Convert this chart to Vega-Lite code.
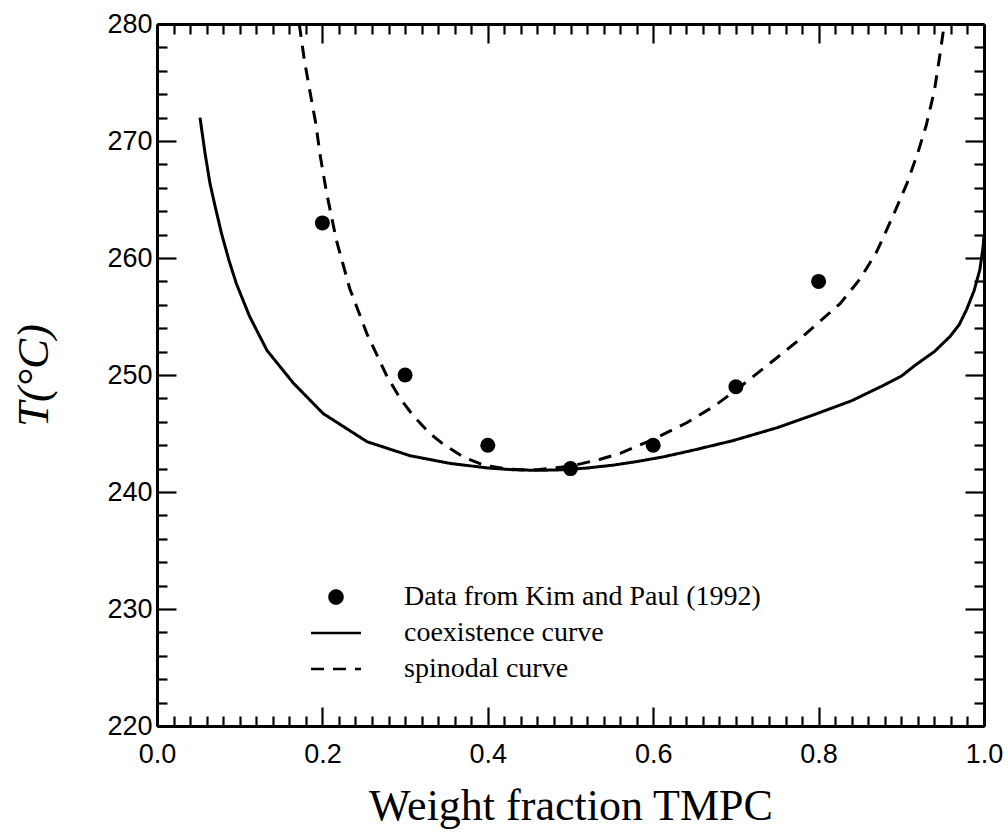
{
  "$schema": "https://vega.github.io/schema/vega-lite/v6.json",
  "autosize": "none",
  "padding": {"left": 157, "top": 24, "right": 24, "bottom": 112},
  "width": 827,
  "height": 702,
  "background": "white",
  "config": {
    "view": {"stroke": null},
    "axis": {
      "domainColor": "black", "domainWidth": 3, "tickColor": "black", "tickWidth": 2.2,
      "grid": false, "labelColor": "black", "titleColor": "black",
      "labelFont": "Liberation Sans", "labelFontSize": 27, "titleFont": "Liberation Serif",
      "titleFontWeight": "normal", "titleFontSize": 45, "labelOverlap": false, "labelFlush": false, "labelBound": false
    }
  },
  "datasets": {
    "measured": [
      {"w": 0.2, "T": 263, "series": "Data from Kim and Paul (1992)"},
      {"w": 0.3, "T": 250, "series": "Data from Kim and Paul (1992)"},
      {"w": 0.4, "T": 244, "series": "Data from Kim and Paul (1992)"},
      {"w": 0.5, "T": 242, "series": "Data from Kim and Paul (1992)"},
      {"w": 0.6, "T": 244, "series": "Data from Kim and Paul (1992)"},
      {"w": 0.7, "T": 249, "series": "Data from Kim and Paul (1992)"},
      {"w": 0.8, "T": 258, "series": "Data from Kim and Paul (1992)"}
    ],
    "curves": [
      {"w": 0.052, "T": 272.0, "series": "coexistence curve"},
      {"w": 0.058, "T": 269.0, "series": "coexistence curve"},
      {"w": 0.064, "T": 266.4, "series": "coexistence curve"},
      {"w": 0.070, "T": 264.5, "series": "coexistence curve"},
      {"w": 0.078, "T": 262.1, "series": "coexistence curve"},
      {"w": 0.087, "T": 259.8, "series": "coexistence curve"},
      {"w": 0.096, "T": 257.8, "series": "coexistence curve"},
      {"w": 0.112, "T": 255.0, "series": "coexistence curve"},
      {"w": 0.133, "T": 252.1, "series": "coexistence curve"},
      {"w": 0.165, "T": 249.3, "series": "coexistence curve"},
      {"w": 0.201, "T": 246.7, "series": "coexistence curve"},
      {"w": 0.254, "T": 244.3, "series": "coexistence curve"},
      {"w": 0.306, "T": 243.1, "series": "coexistence curve"},
      {"w": 0.354, "T": 242.45, "series": "coexistence curve"},
      {"w": 0.400, "T": 242.05, "series": "coexistence curve"},
      {"w": 0.431, "T": 241.9, "series": "coexistence curve"},
      {"w": 0.460, "T": 241.85, "series": "coexistence curve"},
      {"w": 0.491, "T": 241.9, "series": "coexistence curve"},
      {"w": 0.520, "T": 242.05, "series": "coexistence curve"},
      {"w": 0.552, "T": 242.3, "series": "coexistence curve"},
      {"w": 0.580, "T": 242.6, "series": "coexistence curve"},
      {"w": 0.612, "T": 243.0, "series": "coexistence curve"},
      {"w": 0.650, "T": 243.6, "series": "coexistence curve"},
      {"w": 0.697, "T": 244.4, "series": "coexistence curve"},
      {"w": 0.750, "T": 245.5, "series": "coexistence curve"},
      {"w": 0.798, "T": 246.7, "series": "coexistence curve"},
      {"w": 0.840, "T": 247.8, "series": "coexistence curve"},
      {"w": 0.878, "T": 249.1, "series": "coexistence curve"},
      {"w": 0.900, "T": 249.9, "series": "coexistence curve"},
      {"w": 0.918, "T": 250.9, "series": "coexistence curve"},
      {"w": 0.940, "T": 252.0, "series": "coexistence curve"},
      {"w": 0.959, "T": 253.3, "series": "coexistence curve"},
      {"w": 0.970, "T": 254.3, "series": "coexistence curve"},
      {"w": 0.979, "T": 255.6, "series": "coexistence curve"},
      {"w": 0.988, "T": 257.2, "series": "coexistence curve"},
      {"w": 0.995, "T": 259.0, "series": "coexistence curve"},
      {"w": 0.999, "T": 261.0, "series": "coexistence curve"},
      {"w": 1.000, "T": 262.0, "series": "coexistence curve"},
      {"w": 0.172, "T": 280.0, "series": "spinodal curve"},
      {"w": 0.178, "T": 277.0, "series": "spinodal curve"},
      {"w": 0.185, "T": 274.2, "series": "spinodal curve"},
      {"w": 0.192, "T": 271.5, "series": "spinodal curve"},
      {"w": 0.197, "T": 268.9, "series": "spinodal curve"},
      {"w": 0.205, "T": 265.6, "series": "spinodal curve"},
      {"w": 0.217, "T": 261.5, "series": "spinodal curve"},
      {"w": 0.233, "T": 257.4, "series": "spinodal curve"},
      {"w": 0.254, "T": 253.5, "series": "spinodal curve"},
      {"w": 0.278, "T": 249.9, "series": "spinodal curve"},
      {"w": 0.294, "T": 248.0, "series": "spinodal curve"},
      {"w": 0.310, "T": 246.5, "series": "spinodal curve"},
      {"w": 0.330, "T": 245.0, "series": "spinodal curve"},
      {"w": 0.346, "T": 244.1, "series": "spinodal curve"},
      {"w": 0.370, "T": 243.0, "series": "spinodal curve"},
      {"w": 0.395, "T": 242.3, "series": "spinodal curve"},
      {"w": 0.420, "T": 242.0, "series": "spinodal curve"},
      {"w": 0.440, "T": 241.9, "series": "spinodal curve"},
      {"w": 0.460, "T": 241.9, "series": "spinodal curve"},
      {"w": 0.500, "T": 242.2, "series": "spinodal curve"},
      {"w": 0.536, "T": 242.8, "series": "spinodal curve"},
      {"w": 0.560, "T": 243.3, "series": "spinodal curve"},
      {"w": 0.600, "T": 244.5, "series": "spinodal curve"},
      {"w": 0.640, "T": 245.9, "series": "spinodal curve"},
      {"w": 0.673, "T": 247.3, "series": "spinodal curve"},
      {"w": 0.700, "T": 248.7, "series": "spinodal curve"},
      {"w": 0.725, "T": 250.1, "series": "spinodal curve"},
      {"w": 0.750, "T": 251.5, "series": "spinodal curve"},
      {"w": 0.778, "T": 253.1, "series": "spinodal curve"},
      {"w": 0.800, "T": 254.5, "series": "spinodal curve"},
      {"w": 0.826, "T": 256.1, "series": "spinodal curve"},
      {"w": 0.850, "T": 258.2, "series": "spinodal curve"},
      {"w": 0.870, "T": 260.5, "series": "spinodal curve"},
      {"w": 0.890, "T": 263.6, "series": "spinodal curve"},
      {"w": 0.907, "T": 266.4, "series": "spinodal curve"},
      {"w": 0.920, "T": 269.0, "series": "spinodal curve"},
      {"w": 0.930, "T": 271.3, "series": "spinodal curve"},
      {"w": 0.940, "T": 274.3, "series": "spinodal curve"},
      {"w": 0.947, "T": 277.5, "series": "spinodal curve"},
      {"w": 0.952, "T": 280.0, "series": "spinodal curve"}
    ]
  },
  "resolve": {"axis": {"x": "independent", "y": "independent"}},
  "layer": [
    {
      "data": {"name": "curves"},
      "mark": {"type": "line", "color": "black", "strokeWidth": 3, "clip": true},
      "encoding": {
        "x": {
          "field": "w", "type": "quantitative",
          "scale": {"domain": [0, 1], "nice": false, "zero": false},
          "axis": {
            "orient": "bottom", "title": "Weight fraction TMPC", "tickCount": 50,
            "labelFontSize": 27, "titleFontSize": 44,
            "labelExpr": "abs(datum.value*5 - round(datum.value*5)) < 0.001 ? format(datum.value, '.1f') : ''",
            "tickSize": {"condition": {"test": "abs(datum.value*5 - round(datum.value*5)) < 0.001", "value": -19}, "value": -10},
            "labelPadding": 34, "titlePadding": 8,
            "encode": {"labels": {"update": {"fontSize": {"value": 27}}}}
          }
        },
        "y": {
          "field": "T", "type": "quantitative",
          "scale": {"domain": [220, 280], "nice": false, "zero": false},
          "axis": {
            "orient": "left", "title": "T(°C)", "tickCount": 30,
            "labelFontSize": 27, "titleFontSize": 45, "titleFontStyle": "italic",
            "labelExpr": "datum.value % 10 === 0 ? datum.label : ''",
            "tickSize": {"condition": {"test": "datum.value % 10 === 0", "value": -19}, "value": -10},
            "labelPadding": 24, "titlePadding": 50,
            "encode": {"labels": {"update": {"fontSize": {"value": 27}}}}
          }
        },
        "strokeDash": {
          "field": "series", "type": "nominal",
          "scale": {
            "domain": ["Data from Kim and Paul (1992)", "coexistence curve", "spinodal curve"],
            "range": [[1, 0], [1, 0], [13, 9]]
          },
          "legend": {
            "orient": "none", "legendX": 165, "legendY": 559, "title": null,
            "labelFont": "Liberation Serif", "labelFontSize": 28, "labelLimit": 700, "labelColor": "black",
            "symbolStrokeColor": "black", "symbolFillColor": "black", "symbolStrokeWidth": 2.5,
            "symbolSize": 169, "labelOffset": 54, "rowPadding": 8, "padding": 0,
            "encode": {"symbols": {"update": {"stroke": {"value": "black"}, "strokeWidth": {"value": 2.5}, "fill": {"value": "black"}}}}
          }
        }
      }
    },
    {
      "data": {"name": "measured"},
      "mark": {"type": "point", "filled": true, "color": "black", "size": 225, "opacity": 1},
      "encoding": {
        "x": {
          "field": "w", "type": "quantitative",
          "axis": {
            "orient": "top", "title": null, "tickCount": 50, "labels": false,
            "tickSize": {"condition": {"test": "abs(datum.value*5 - round(datum.value*5)) < 0.001", "value": -19}, "value": -10}
          }
        },
        "y": {
          "field": "T", "type": "quantitative",
          "axis": {
            "orient": "right", "title": null, "tickCount": 30, "labels": false,
            "tickSize": {"condition": {"test": "datum.value % 10 === 0", "value": -19}, "value": -10}
          }
        },
        "shape": {
          "field": "series", "type": "nominal",
          "scale": {
            "domain": ["Data from Kim and Paul (1992)", "coexistence curve", "spinodal curve"],
            "range": ["circle", "M-3.85,0L3.85,0", "M-3.85,0L3.85,0"]
          },
          "legend": {
            "orient": "none", "legendX": 165, "legendY": 559, "title": null,
            "labelFont": "Liberation Serif", "labelFontSize": 28, "labelLimit": 700, "labelColor": "black",
            "symbolStrokeColor": "black", "symbolFillColor": "black", "symbolStrokeWidth": 2.5,
            "symbolSize": 169, "labelOffset": 54, "rowPadding": 8, "padding": 0,
            "encode": {"symbols": {"update": {"stroke": {"value": "black"}, "strokeWidth": {"value": 2.5}, "fill": {"value": "black"}}}}
          }
        }
      }
    }
  ]
}
